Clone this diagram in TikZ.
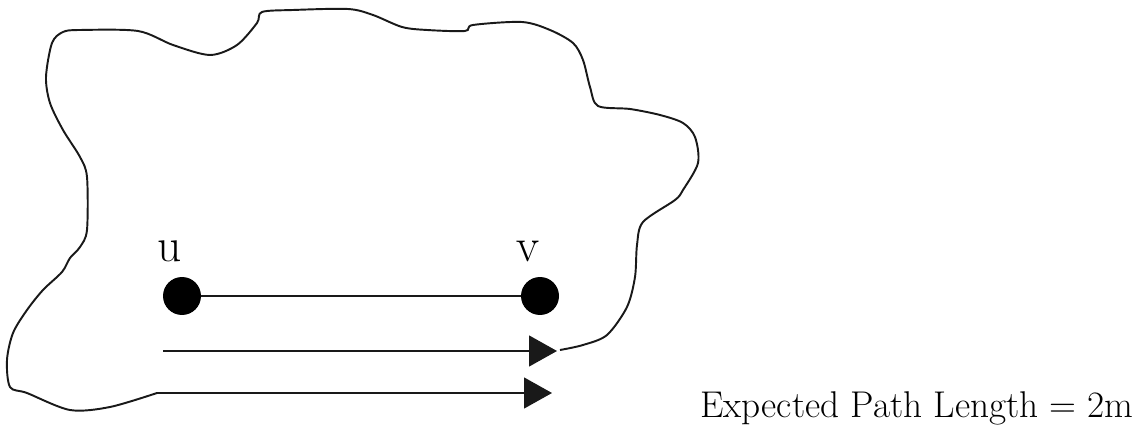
\documentclass[tikz,border=0pt]{standalone}
\usepackage{tikz}
\usetikzlibrary{arrows.meta, positioning}
\tikzset{
    vertex/.style={circle, fill=black, draw=none, minimum size=0.76cm, inner sep=0pt},
    vlabel/.style={anchor=base, inner sep=0pt, font=\fontsize{27}{31}\selectfont},
    region/.style={line width=1.1pt, color=black!90},
    edge/.style={line width=0.75pt, color=black!90},
    arrow/.style={line width=0.75pt, color=black!90, -{Triangle[length=0.56cm, width=0.62cm]}},
    note/.style={anchor=base west, inner sep=0pt, font=\fontsize{21.2}{25}\selectfont}
}
\begin{document}
\begin{tikzpicture}[x=0.02cm, y=-0.02cm]
    \useasboundingbox (0,0) rectangle (1136,428);

    % the region
    \draw [region] plot [smooth, tension=0.5] coordinates {
        (157,393) (110,407) (70,410) (27,393) (10,387) (7,360) (13,333) (27,310) (43,290)
        (62,272) (70,258) (80,247) (87,230) (87,177) (80,157) (63,130) (50,103)
        (46,77) (52,43) (63,32) (80,30) (138,31) (173,45) (210,55) (237,45) (257,23)
        (262,12) (293,10) (348,9) (373,15) (402,27) (427,30) (465,31) (473,25) (522,22)
        (550,30) (573,43) (583,60) (590,87) (598,106) (630,109) (660,115) (683,123)
        (695,137) (698,163) (683,190) (675,200) (643,222) (637,245) (635,277) (627,307)
        (607,335) (583,345) (560,350)};

    \node (u) [vertex] at (182,296) {};
    \node (v) [vertex] at (540,296) {};
    \node (ulabel) [vlabel] at (170,262) {u};
    \node (vlabel) [vlabel] at (528,262) {v};
    \draw [edge] (u) -- (v);

    \coordinate (p1s) at (163,351);
    \coordinate (p1e) at (557,351);
    \coordinate (p2s) at (157,393);
    \coordinate (p2e) at (552,393);
    \draw [arrow] (p1s) -- (p1e);
    \draw [arrow] (p2s) -- (p2e);

    \node (len) [note] at (700,418) {Expected Path Length = 2m};
\end{tikzpicture}
\end{document}
